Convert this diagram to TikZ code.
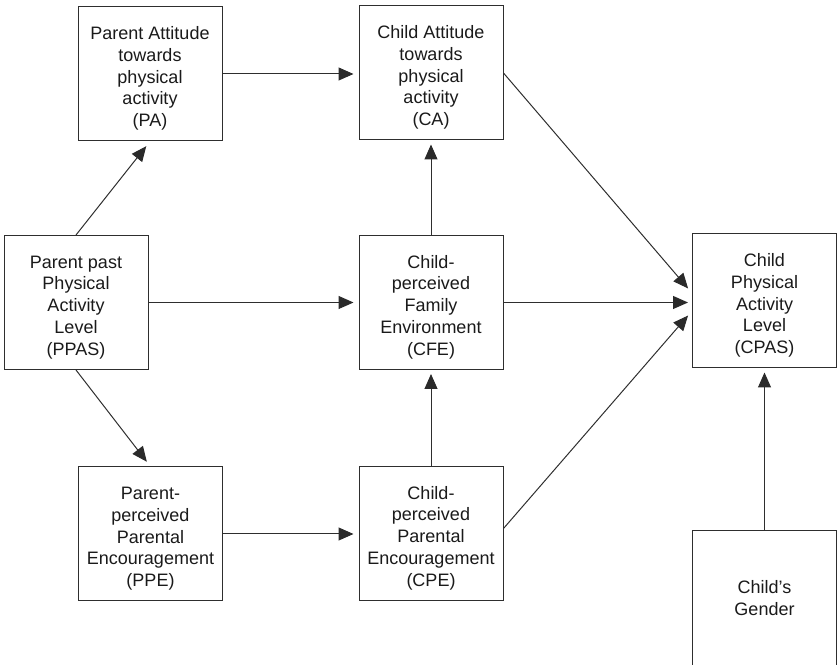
\documentclass[tikz,border=0pt]{standalone}
\usepackage{fontspec}
\setmainfont{Liberation Sans}
\usetikzlibrary{arrows.meta}
\definecolor{linec}{HTML}{2E2E2E}
\definecolor{tipc}{HTML}{2A2A2A}
\definecolor{textc}{HTML}{1A1A1A}
\newcommand{\toppad}{\rule{0pt}{22pt}}
\begin{document}
\begin{tikzpicture}[x=1pt,y=1pt,
  boxnode/.style={draw=linec, line width=1pt, minimum width=144pt, minimum height=134pt,
    align=center, inner sep=2pt, text=textc, font=\fontsize{18}{21.7}\selectfont},
  conn/.style={draw=linec, line width=1pt,
    -{Triangle[length=15pt,width=13pt,fill=tipc,color=tipc]}, shorten >=5pt}
]
\useasboundingbox (0,0) rectangle (838,664);
\node[boxnode] (PA) at (150,590) {\toppad Parent Attitude\\towards\\physical\\activity\\(PA)};
\node[boxnode] (CA) at (431,591) {\toppad Child Attitude\\towards\\physical\\activity\\(CA)};
\node[boxnode] (PPAS) at (76,361.5) {\toppad Parent past\\Physical\\Activity\\Level\\(PPAS)};
\node[boxnode] (CFE) at (431,361.5) {\toppad Child-\\perceived\\Family\\Environment\\(CFE)};
\node[boxnode] (CPAS) at (764.5,363) {\toppad Child\\Physical\\Activity\\Level\\(CPAS)};
\node[boxnode] (PPE) at (150.5,130) {\toppad Parent-\\perceived\\Parental\\Encouragement\\(PPE)};
\node[boxnode] (CPE) at (431,130.5) {\toppad Child-\\perceived\\Parental\\Encouragement\\(CPE)};
\node[boxnode] (GEN) at (764.5,66) {Child's\\Gender};

\draw[conn] (PA.east) -- (PA.east -| CA.west);
\draw[conn, shorten >=6pt] (PPAS.north) -- (PA.south);
\draw[conn, shorten >=6pt] (PPAS.south) -- (PPE.north);
\draw[conn] (PPAS.east) -- (PPAS.east -| CFE.west);
\draw[conn, shorten >=4pt] (CFE.north) -- (CA.south);
\draw[conn, shorten >=4pt] (CPE.north) -- (CFE.south);
\draw[conn] (PPE.east) -- (PPE.east -| CPE.west);
\draw[conn, shorten >=6pt] (CA.east) -- ([yshift=8pt]CPAS.west);
\draw[conn, shorten >=4pt] (CFE.east) -- (CFE.east -| CPAS.west);
\draw[conn, shorten >=6pt] ([yshift=5pt]CPE.east) -- ([yshift=-10pt]CPAS.west);
\draw[conn, shorten >=4pt] (GEN.north) -- (CPAS.south);
\end{tikzpicture}
\end{document}
